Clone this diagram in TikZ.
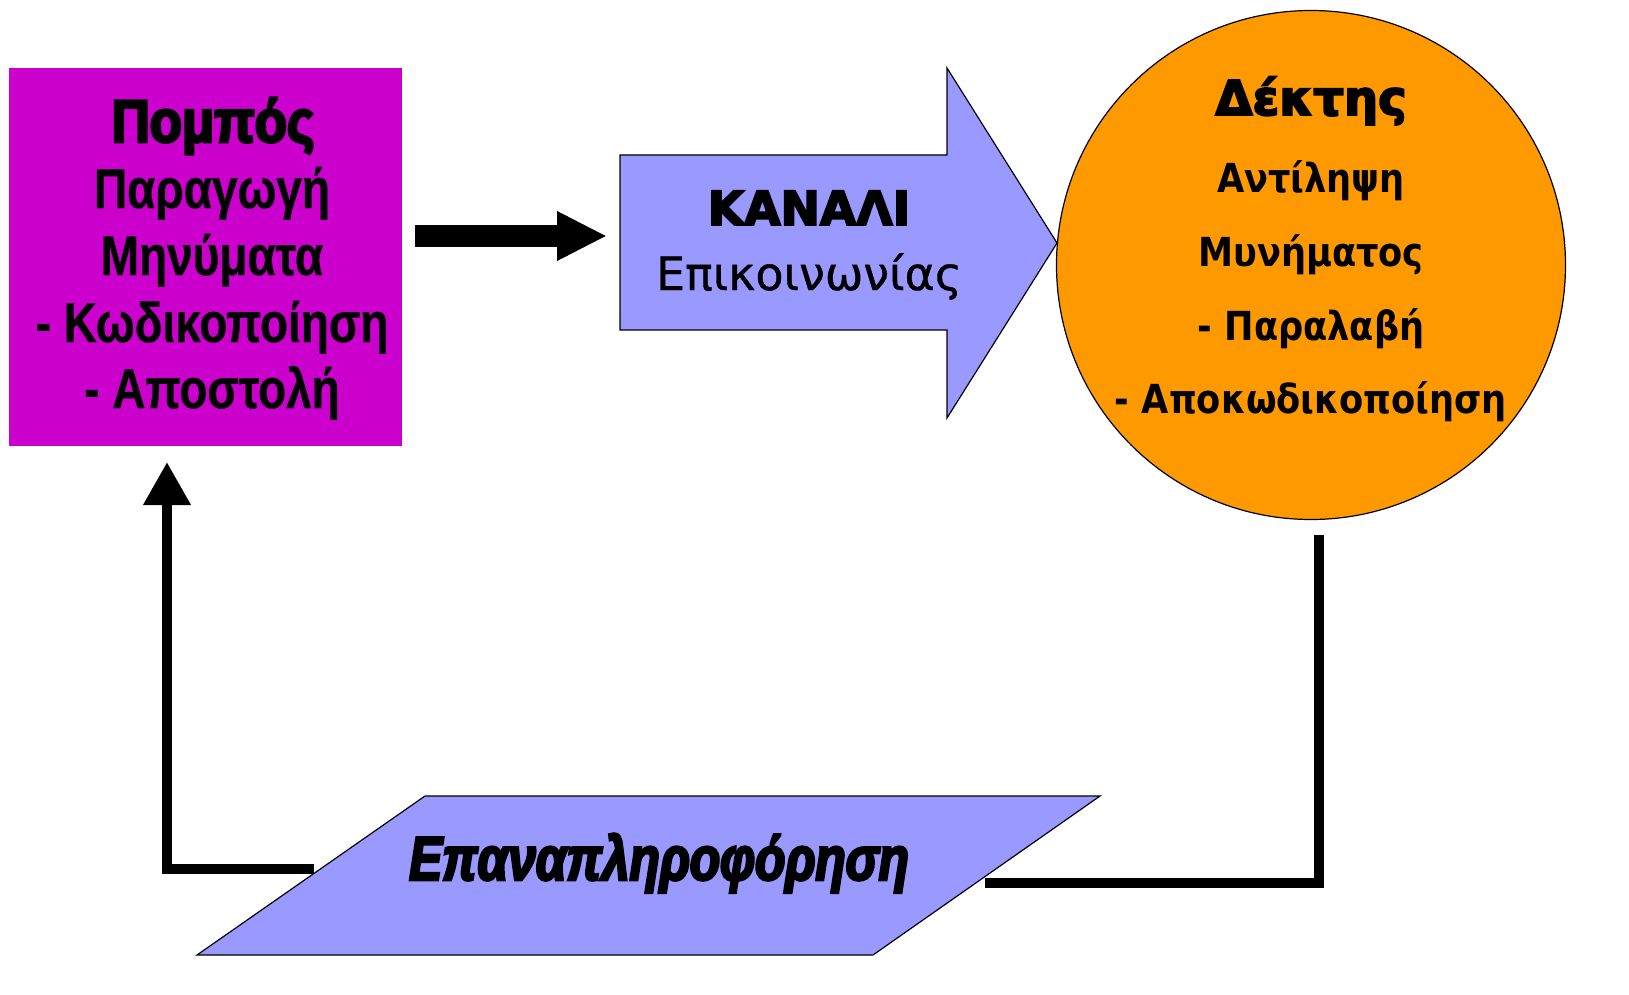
\documentclass[tikz,border=0pt]{standalone}
\usepackage{fontspec}
\usetikzlibrary{arrows.meta}
\setmainfont{DejaVu Sans}
\newfontfamily\arialb{Liberation Sans Bold}[FakeStretch=0.82, FakeBold=0.6]
\newfontfamily\arialheavy{Liberation Sans Bold}[FakeStretch=0.88, FakeBold=4.5]
\newfontfamily\arialheavyit{Liberation Sans Bold Italic}[FakeStretch=0.8, FakeBold=4]
\newfontfamily\verdb{DejaVu Sans Bold}[FakeStretch=0.88]
\newfontfamily\verdheavy{DejaVu Sans Bold}[FakeBold=4]
\newfontfamily\verd{DejaVu Sans}[FakeBold=0.8]
\definecolor{magbox}{HTML}{CC00CC}
\definecolor{lilac}{HTML}{9999FF}
\definecolor{orng}{HTML}{FF9900}
\tikzset{
  txt/.style={anchor=base, inner sep=0pt, text=black},
  boxtxt/.style={txt, font=\arialb\fontsize{28}{32}\selectfont},
  circtxt/.style={txt, font=\verdb\fontsize{20}{24}\selectfont},
  fat/.style={line width=5pt, draw=black, line cap=butt, line join=miter},
}
\begin{document}
\begin{tikzpicture}[x=0.5pt, y=-0.5pt]
\path[use as bounding box, fill=white] (0,0) rectangle (1629,995);

% Sender box
\node[fill=magbox, minimum width=196.5pt, minimum height=189pt, inner sep=0pt] (pompos) at (205.5,257) {};
\node[txt, font=\arialheavy\fontsize{30}{34}\selectfont] (p0) at (213,142) {Πομπός};
\node[boxtxt] (p1) at (212,208) {Παραγωγή};
\node[boxtxt] (p2) at (212,275) {Μηνύματα};
\node[boxtxt] (p3) at (212,342) {- Κωδικοποίηση};
\node[boxtxt] (p4) at (212,408) {- Αποστολή};

% Channel arrow
\draw[fill=lilac, draw=black, line width=0.6pt, line join=miter]
  (620,155) -- (947,155) -- (947,68) -- (1057,243) -- (947,418) -- (947,330) -- (620,330) -- cycle;
\coordinate (kin) at (620,236);
\node[txt, font=\verdheavy\fontsize{23.5}{28}\selectfont] (kanali) at (809,225) {ΚΑΝΑΛΙ};
\node[txt, font=\verd\fontsize{23}{28}\selectfont] (epik) at (809,290) {Επικοινωνίας};

% Receiver circle
\node[circle, fill=orng, draw=black, line width=0.6pt, minimum size=254.5pt, inner sep=0pt] (dektis) at (1311,265) {};
\node[txt, font=\verdheavy\fontsize{24}{28}\selectfont] (d0) at (1311,115) {Δέκτης};
\node[circtxt] (d1) at (1311,192) {Αντίληψη};
\node[circtxt] (d2) at (1311,266) {Μυνήματος};
\node[circtxt] (d3) at (1311,340) {- Παραλαβή};
\node[circtxt] (d4) at (1311,413) {- Αποκωδικοποίηση};

% Feedback parallelogram
\draw[fill=lilac, draw=black, line width=0.6pt, line join=miter]
  (425,796) -- (1100,796) -- (873,955) -- (197,955) -- cycle;
\node[txt, font=\arialheavyit\fontsize{31}{34}\selectfont] (feed) at (659,880) {Επαναπληροφόρηση};

% Connectors
\coordinate (a1) at (415,236);
\coordinate (a2) at (607,236);
\draw[line width=11pt, -{Triangle[length=25pt, width=23pt]}] (a1) -- (a2);

\coordinate (r1) at (1319,535);
\coordinate (r2) at (1319,883);
\coordinate (r3) at (985,883);
\draw[fat] (r1) -- (r2) -- (r3);

\coordinate (l1) at (314,869);
\coordinate (l2) at (167,869);
\coordinate (l3) at (167,462);
\draw[fat, -{Triangle[length=21.5pt, width=22.5pt]}] (l1) -- (l2) -- (l3);
\end{tikzpicture}
\end{document}
